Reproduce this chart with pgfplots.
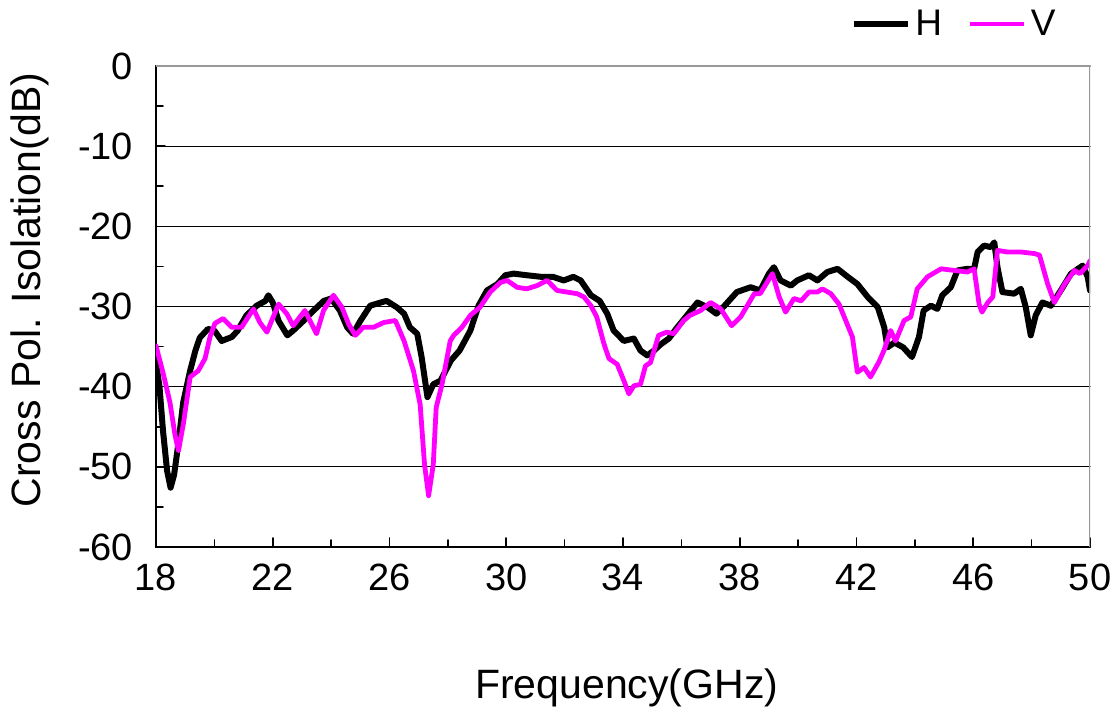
\documentclass[border=0pt]{standalone}
\usepackage{fontspec}
\setmainfont{Liberation Sans}
\usepackage{pgfplots}
\pgfplotsset{compat=1.18}
\definecolor{vmag}{RGB}{255,0,255}
\begin{document}
\begin{tikzpicture}
\useasboundingbox (-78pt,-84pt) rectangle (478pt,273.5pt);
\begin{axis}[
  width=467pt, height=240.5pt, scale only axis,
  at={(0,0)}, anchor=south west,
  xmin=18, xmax=50, ymin=-60, ymax=0,
  axis lines=left,
  axis line style={-, line width=1pt, black},
  xtick={18,22,...,50}, minor xtick={20,24,...,48},
  ytick={-60,-50,...,0}, minor ytick={-55,-45,...,-5},
  ymajorgrids, grid style={black, line width=0.6pt},
  tick align=inside, major tick length=4.5pt, minor tick length=3.5pt,
  tick style={black, line width=0.8pt},
  /pgf/number format/assume math mode=true,
  tick label style={font=\fontsize{19}{21}\selectfont},
  xticklabel style={yshift=-5pt},
  yticklabel style={xshift=-8pt},
  xlabel={Frequency(GHz)},
  ylabel={Cross Pol. Isolation(dB)},
  label style={font=\fontsize{20.5}{24}\selectfont},
  xlabel style={at={(axis description cs:0.504,-0.293)}, anchor=center},
  ylabel style={at={(axis description cs:-0.135,0.534)}, anchor=center},
  legend columns=2,
  legend style={at={(axis description cs:0.744,1.0873)}, anchor=west, draw=none, fill=none, inner sep=0pt,
    font=\fontsize{18.5}{20}\selectfont, /tikz/every even column/.append style={column sep=11pt}},
  legend image code/.code={\draw[#1] (0pt,0pt) -- (27pt,0pt);},
  line join=round, line cap=round,
]
\addplot[black, line width=3pt] coordinates {
(18.00,-37.0) (18.12,-40) (18.24,-45.5) (18.38,-50.5) (18.5,-52.6) (18.62,-51) (18.77,-47) (18.93,-42) (19.05,-40) (19.17,-38) (19.35,-35.5) (19.5,-33.9) (19.78,-32.8) (20.0,-33) (20.25,-34.3) (20.6,-33.8) (20.8,-33) (21.1,-31.1) (21.45,-29.9) (21.75,-29.3) (21.85,-28.6) (22.0,-29.5) (22.2,-31.8) (22.5,-33.6) (22.7,-33) (23.05,-31.8) (23.4,-30.5) (23.75,-29.3) (24.0,-29) (24.3,-30.5) (24.55,-32.6) (24.75,-33.4) (25.0,-31.8) (25.34,-29.9) (25.7,-29.5) (25.9,-29.3) (26.25,-30.1) (26.5,-30.9) (26.7,-32.6) (26.95,-33.4) (27.1,-36.3) (27.3,-41.3) (27.5,-39.7) (27.75,-39.25) (28.1,-36.75) (28.4,-35.5) (28.77,-33) (29.05,-29.9) (29.34,-28) (29.7,-27.2) (29.97,-26.1) (30.25,-25.9) (30.7,-26.1) (31.2,-26.3) (31.6,-26.3) (31.97,-26.75) (32.3,-26.3) (32.55,-26.75) (32.9,-28.6) (33.2,-29.3) (33.46,-30.9) (33.68,-33) (34.03,-34.3) (34.37,-34) (34.6,-35.5) (34.83,-36.1) (35.06,-35.5) (35.3,-34.7) (35.57,-34) (35.86,-32.6) (36.15,-31.3) (36.55,-29.5) (36.9,-30.1) (37.2,-30.9) (37.48,-29.9) (37.9,-28.2) (38.37,-27.6) (38.7,-28) (39.0,-25.9) (39.17,-25.1) (39.4,-26.75) (39.75,-27.4) (39.97,-26.75) (40.37,-26.1) (40.66,-26.75) (41.0,-25.7) (41.35,-25.3) (41.7,-26.3) (42.03,-27.2) (42.38,-28.8) (42.73,-30.1) (42.95,-32.6) (43.06,-35.1) (43.3,-34.5) (43.6,-35.1) (43.9,-36.3) (44.14,-33.8) (44.3,-30.5) (44.55,-29.9) (44.77,-30.3) (44.94,-28.6) (45.23,-27.6) (45.46,-25.5) (45.8,-25.3) (46.03,-25.3) (46.15,-23.2) (46.37,-22.4) (46.6,-22.6) (46.72,-22) (46.83,-25.1) (47.0,-28.2) (47.4,-28.4) (47.63,-27.8) (47.8,-30.1) (47.97,-33.6) (48.14,-31.1) (48.37,-29.5) (48.66,-29.9) (49.0,-28) (49.35,-25.9) (49.75,-24.9) (49.92,-26.3) (50.0,-28)
};
\addlegendentry{H}
\addplot[vmag, line width=2.4pt] coordinates {
(18.0,-34.9) (18.25,-38.4) (18.48,-42) (18.65,-46) (18.77,-48) (18.94,-44.6) (19.17,-38.8) (19.45,-38) (19.68,-36.5) (19.85,-33.8) (20.02,-32.1) (20.3,-31.5) (20.6,-32.6) (20.93,-32.6) (21.34,-30.3) (21.56,-32) (21.8,-33.2) (22.2,-29.7) (22.48,-30.9) (22.7,-32.4) (23.1,-30.5) (23.5,-33.4) (23.74,-30.5) (24.08,-28.6) (24.37,-30.1) (24.6,-32.2) (24.83,-33.6) (25.1,-32.6) (25.45,-32.6) (25.8,-32) (26.2,-31.75) (26.5,-34.3) (26.82,-38) (27.05,-42.2) (27.2,-49.7) (27.34,-53.6) (27.5,-49.7) (27.6,-42.6) (27.8,-39.7) (28.08,-34.3) (28.2,-33.6) (28.48,-32.6) (28.77,-31.1) (29.1,-30.1) (29.45,-28.2) (29.8,-27) (30.03,-26.75) (30.37,-27.6) (30.7,-27.8) (31.05,-27.4) (31.4,-26.75) (31.74,-28) (32.08,-28.2) (32.43,-28.4) (32.66,-28.8) (32.9,-29.9) (33.1,-31.3) (33.35,-34.7) (33.52,-36.5) (33.8,-37.2) (34.03,-39.25) (34.2,-40.9) (34.37,-39.9) (34.6,-39.7) (34.77,-37.4) (34.94,-37) (35.22,-33.6) (35.5,-33.2) (35.74,-33.4) (36.08,-31.75) (36.3,-31.1) (36.66,-30.5) (37.0,-29.5) (37.35,-30.3) (37.72,-32.4) (38.03,-31.3) (38.5,-28.4) (38.7,-28.4) (39.12,-25.9) (39.35,-28.8) (39.57,-30.7) (39.86,-29) (40.1,-29.3) (40.37,-28.2) (40.66,-28.2) (40.83,-27.8) (41.12,-28.4) (41.4,-29.7) (41.63,-31.75) (41.86,-33.8) (42.03,-38.2) (42.26,-37.6) (42.48,-38.8) (42.77,-36.9) (42.94,-35.5) (43.17,-33) (43.34,-34.3) (43.63,-31.75) (43.86,-31.3) (44.08,-27.8) (44.43,-26.3) (44.9,-25.3) (45.35,-25.5) (45.8,-25.7) (46.03,-25.3) (46.2,-29.7) (46.3,-30.7) (46.5,-29.5) (46.67,-28.8) (46.83,-23) (47.17,-23.2) (47.63,-23.2) (48.1,-23.4) (48.27,-23.6) (48.55,-27.2) (48.78,-29.5) (49.13,-27.2) (49.47,-25.5) (49.65,-25.9) (49.92,-24.9) (50.0,-24.3)
};
\addlegendentry{V}
\draw[gray!80, line width=1pt] (rel axis cs:0,1) -- (rel axis cs:1,1) -- (rel axis cs:1,0);
\end{axis}
\end{tikzpicture}
\end{document}
